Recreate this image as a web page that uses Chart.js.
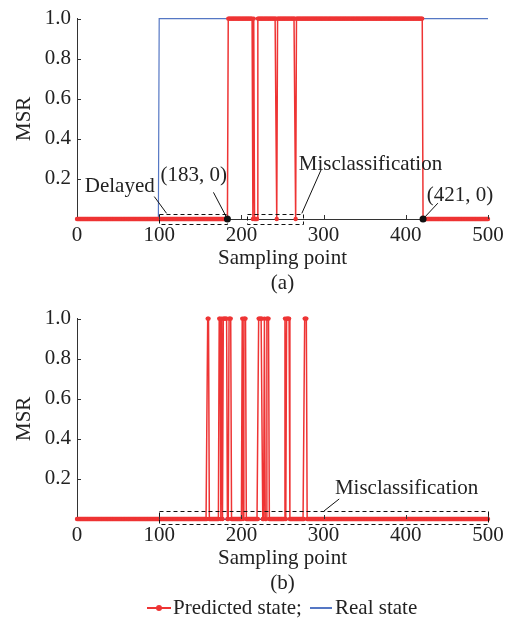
<!DOCTYPE html>
<html>
<head>
<meta charset="utf-8">
<script src="https://cdn.jsdelivr.net/npm/chart.js@4/dist/chart.umd.min.js"></script>
<style>
  html, body { margin: 0; padding: 0; background: #fff; }
  #wrap { position: relative; width: 509px; height: 622px; }
  .panel { position: absolute; left: 0; width: 509px; height: 300px; }
  #legend { position: absolute; left: 0; top: 595px; width: 509px; height: 25px;
            font: 21px "Liberation Serif", "Times New Roman", serif; line-height: 25px; color: #222; }
  #legend span { position: absolute; top: 0; white-space: nowrap; }
  #legend i { position: absolute; display: block; }
</style>
</head>
<body>
<div id="wrap">
  <div class="panel" style="top:0"><canvas id="chartA" width="509" height="300"></canvas></div>
  <div class="panel" style="top:300px"><canvas id="chartB" width="509" height="300"></canvas></div>
  <div id="legend">
    <i style="left:147px;top:12px;width:24px;height:2px;background:#ee3434"></i>
    <i style="left:156px;top:10px;width:6px;height:6px;border-radius:3px;background:#ee3434"></i>
    <span style="left:173px">Predicted state;</span>
    <i style="left:310px;top:12px;width:22px;height:1.5px;background:#5577c4"></i>
    <span style="left:335px">Real state</span>
  </div>
</div>
<script>
// ---- data ----
// sampling points 0..500, state is 0 unless listed in a "high" interval [from, to]
var xTicks = [0, 100, 200, 300, 400, 500];
var yTicks = [0.2, 0.4, 0.6, 0.8, 1.0];
var lastSample = 500;

// (a)
var predictedA_high = [[184, 213], [215, 215], [220, 242], [244, 265], [267, 420]];
var realA_high = [[100, 500]];
// (b)
var predictedB_high = [[159, 160], [173, 174], [176, 176], [178, 182], [185, 187],
                       [201, 201], [203, 205], [221, 225], [228, 228], [231, 233],
                       [253, 253], [255, 258], [277, 279]];
var realB_high = [];

var RED = '#ee3434', BLUE = '#5577c4', AXIS = '#333', TXT = '#222';
var FONT = '"Liberation Serif", "Times New Roman", serif';

function states(high) {
  var pts = [];
  for (var i = 0; i <= lastSample; i++) {
    var on = high.some(function (r) { return i >= r[0] && i <= r[1]; });
    pts.push({ x: i, y: on ? 1 : 0 });
  }
  return pts;
}

/* ---------- annotations: inward ticks, dashed boxes, leaders, labels ---------- */
var notesPlugin = {
  id: 'notes',
  afterDatasetsDraw: function (chart, args, o) {
    var ctx = chart.ctx, xs = chart.scales.x, ys = chart.scales.y, a = chart.chartArea;
    function X(v) { return xs.getPixelForValue(v); }
    function Y(v) { return ys.getPixelForValue(v); }
    ctx.save();
    ctx.strokeStyle = AXIS; ctx.lineWidth = 1;
    ctx.beginPath();
    ys.ticks.forEach(function (t) {
      if (t.value === 0) return;
      var y = Math.round(Y(t.value)) + 0.5;
      ctx.moveTo(a.left, y); ctx.lineTo(a.left + 4, y);
    });
    xs.ticks.forEach(function (t) {
      if (t.value === 0) return;
      var x = Math.round(X(t.value)) + 0.5;
      ctx.moveTo(x, a.bottom); ctx.lineTo(x, a.bottom - 4);
    });
    ctx.stroke();

    ctx.strokeStyle = '#111';
    ctx.setLineDash([4, 3]);
    (o.boxes || []).forEach(function (b) {
      var x0 = Math.round(X(b[0])) + 0.5, x1 = Math.round(X(b[1])) + 0.5;
      var y0 = Math.round(Y(b[3])) + 0.5, y1 = Math.round(Y(b[2])) + 0.5;
      ctx.strokeRect(x0, y0, x1 - x0, y1 - y0);
    });
    ctx.setLineDash([]);
    ctx.beginPath();
    (o.leaders || []).forEach(function (l) {
      ctx.moveTo(X(l[0]), Y(l[1])); ctx.lineTo(X(l[2]), Y(l[3]));
    });
    ctx.stroke();
    ctx.fillStyle = '#111';
    (o.dots || []).forEach(function (d) {
      ctx.beginPath(); ctx.arc(X(d[0]), Y(d[1]), 3.5, 0, Math.PI * 2); ctx.fill();
    });
    ctx.fillStyle = TXT;
    ctx.font = '21px ' + FONT;
    ctx.textAlign = 'center'; ctx.textBaseline = 'alphabetic';
    (o.texts || []).forEach(function (t) { ctx.fillText(t[0], X(t[1]), Y(t[2])); });
    ctx.restore();
  }
};

function makeChart(id, predicted, real, panel, notes) {
  return new Chart(document.getElementById(id), {
    type: 'line',
    data: {
      datasets: [
        { label: 'Predicted state', data: states(predicted), borderColor: RED, backgroundColor: RED,
          borderWidth: 1.5, pointRadius: 2.2, pointBorderWidth: 0, pointBackgroundColor: RED,
          tension: 0, clip: false },
        { label: 'Real state', data: states(real), borderColor: BLUE, borderWidth: 1.2,
          pointRadius: 0, tension: 0, clip: false }
      ]
    },
    options: {
      responsive: false, animation: false, devicePixelRatio: 1,
      layout: { padding: { top: 13, right: 21, left: 0, bottom: 0 } },
      plugins: { legend: { display: false }, tooltip: { enabled: false }, notes: notes },
      scales: {
        x: {
          type: 'linear', min: 0, max: 500,
          afterBuildTicks: function (s) { s.ticks = xTicks.map(function (v) { return { value: v }; }); },
          afterFit: function (s) { s.height = 81; },
          grid: { display: false, drawTicks: false },
          border: { display: true, color: AXIS, width: 1 },
          ticks: { color: TXT, font: { family: FONT, size: 21 }, padding: 4, maxRotation: 0 },
          title: { display: true, text: ['Sampling point', panel], color: TXT,
                   font: { family: FONT, size: 21, lineHeight: 1.2 }, padding: { top: 0, bottom: 4 } }
        },
        y: {
          min: 0, max: 1,
          afterBuildTicks: function (s) { s.ticks = [0].concat(yTicks).map(function (v) { return { value: v }; }); },
          afterFit: function (s) { s.width = 77; },
          grid: { display: false, drawTicks: false },
          border: { display: true, color: AXIS, width: 1 },
          ticks: { color: TXT, font: { family: FONT, size: 21 }, padding: 6,
                   callback: function (v) { return v === 0 ? '' : Number(v).toFixed(1); } },
          title: { display: true, text: 'MSR', color: TXT,
                   font: { family: FONT, size: 21, lineHeight: 1.2 }, padding: { top: 12, bottom: 0 } }
        }
      }
    },
    plugins: [notesPlugin]
  });
}

makeChart('chartA', predictedA_high, realA_high, '(a)', {
  boxes: [[100, 183, -0.024, 0.026], [207, 275, -0.024, 0.026]],
  leaders: [[94, 0.112, 109, 0.028], [166, 0.133, 183, 0], [297, 0.246, 273.5, 0.028], [439, 0.079, 421, 0]],
  dots: [[183, 0], [421, 0]],
  texts: [['Delayed', 52, 0.135], ['(183, 0)', 142, 0.189], ['Misclassification', 357, 0.246], ['(421, 0)', 466, 0.092]]
});
makeChart('chartB', predictedB_high, realB_high, '(b)', {
  boxes: [[100, 500, -0.027, 0.040]],
  leaders: [[319, 0.1, 300.5, 0.040]],
  texts: [['Misclassification', 401, 0.125]]
});
</script>
</body>
</html>
